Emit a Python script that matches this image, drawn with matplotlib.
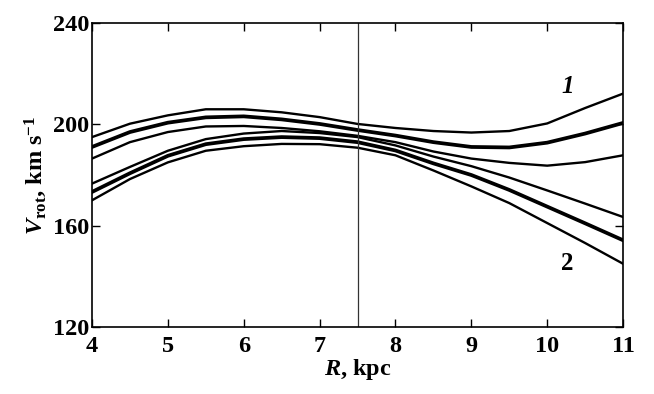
import matplotlib
matplotlib.use('Agg')
import matplotlib.pyplot as plt

plt.rcParams['font.family'] = 'Liberation Serif'
plt.rcParams['font.weight'] = 'bold'
plt.rcParams['mathtext.fontset'] = 'custom'
plt.rcParams['mathtext.rm'] = 'Liberation Serif:bold'
plt.rcParams['mathtext.it'] = 'Liberation Serif:italic:bold'
plt.rcParams['mathtext.bf'] = 'Liberation Serif:bold'

R = [4.0, 4.5, 5.0, 5.5, 6.0, 6.5, 7.0, 7.5, 8.0, 8.5, 9.0, 9.5, 10.0, 10.5, 11.0]

# curve group 1 (upper bound, fit, lower bound)
v1_hi = [195.0, 200.3, 203.6, 206.0, 206.0, 204.8, 202.9, 200.2, 198.6, 197.4, 196.8, 197.4, 200.4, 206.5, 212.2]
v1_fit = [191.1, 197.0, 200.7, 202.8, 203.2, 202.0, 200.2, 197.8, 195.6, 193.0, 191.1, 190.9, 192.8, 196.4, 200.6]
v1_lo = [186.5, 193.0, 197.0, 199.2, 199.4, 198.6, 197.3, 195.5, 193.0, 189.3, 186.5, 184.8, 183.7, 185.1, 187.8]

# curve group 2
v2_hi = [176.6, 183.2, 189.6, 194.2, 196.4, 197.4, 196.6, 195.0, 191.7, 187.3, 183.5, 179.0, 173.9, 168.7, 163.4]
v2_fit = [173.3, 180.7, 187.6, 192.2, 194.2, 195.0, 194.6, 193.0, 189.7, 184.6, 180.0, 174.1, 167.5, 160.9, 154.2]
v2_lo = [170.0, 178.4, 185.0, 189.6, 191.4, 192.3, 192.2, 190.8, 187.8, 181.8, 175.5, 168.9, 161.0, 153.1, 144.9]

R_sun = 7.5

fig = plt.figure(figsize=(6.54, 3.94), dpi=100)
ax = fig.add_axes([0.1407, 0.1708, 0.812, 0.770])

for v, lw in [(v1_hi, 1.7), (v1_fit, 2.7), (v1_lo, 1.7),
              (v2_hi, 1.7), (v2_fit, 2.7), (v2_lo, 1.7)]:
    ax.plot(R, v, color='black', lw=lw, solid_joinstyle='round')

ax.axvline(R_sun, color='#333333', lw=0.9)

ax.text(10.27, 215, '1', fontsize=18, fontstyle='italic', fontweight='bold',
        ha='center', va='center')
ax.text(10.27, 145, '2', fontsize=18, fontweight='bold', ha='center', va='center')

ax.set_xlim(4, 11)
ax.set_ylim(120, 240)
ax.set_xticks([4, 5, 6, 7, 8, 9, 10, 11])
ax.set_yticks([120, 160, 200, 240])
ax.tick_params(direction='in', length=6, width=1, top=True, right=True,
               labelsize=17.5)
ax.tick_params(axis='x', pad=7)
ax.tick_params(axis='y', pad=2)
for lab in ax.get_xticklabels() + ax.get_yticklabels():
    lab.set_fontweight('bold')
for s in ax.spines.values():
    s.set_linewidth(1.2)

ax.set_xlabel(r'$\mathit{R}$, kpc', fontsize=17.5, fontweight='bold', labelpad=0)
ax.set_ylabel(r'$\mathit{V}_{\rm rot}$, km s$^{-1}$', fontsize=17.5,
              fontweight='bold', labelpad=3)

fig.savefig('out.png', dpi=100)
